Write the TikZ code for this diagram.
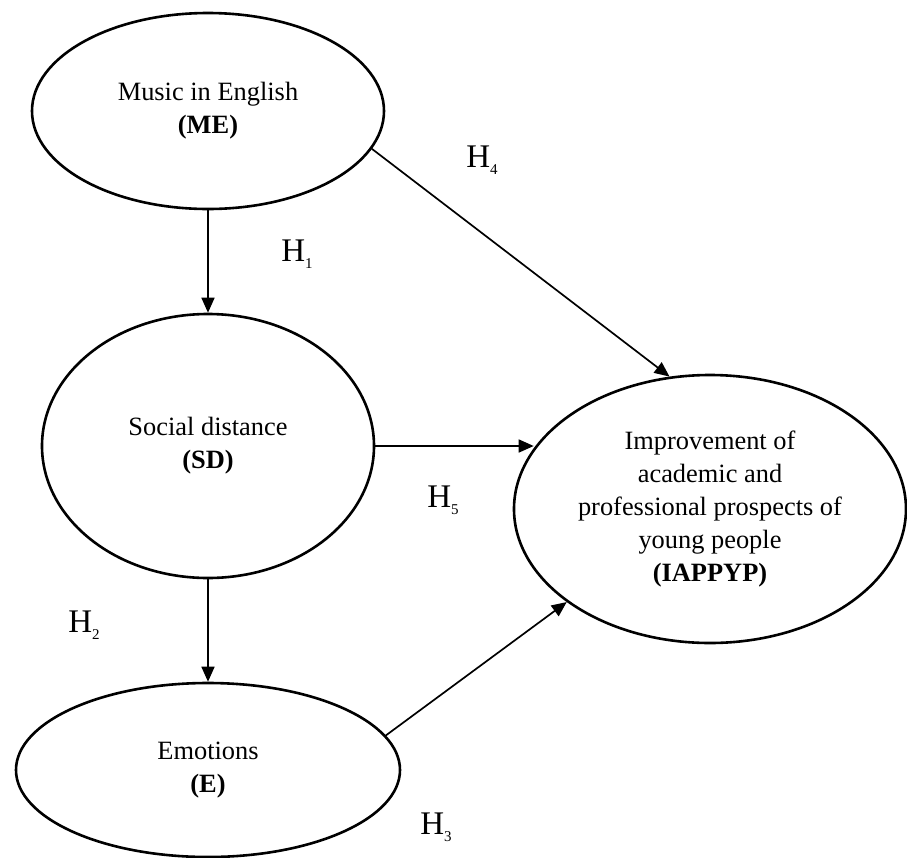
\documentclass[tikz,border=0pt]{standalone}
\usepackage{fontspec}
\setmainfont{Liberation Serif}
\usetikzlibrary{shapes.geometric,arrows.meta}
\newcommand{\hsub}[1]{H\raisebox{-0.45ex}{\fontsize{7.5}{8}\selectfont #1}}
\begin{document}
\begin{tikzpicture}[x=0.5pt,y=-0.5pt,
  latent/.style={draw, ellipse, line width=1.3pt, inner sep=0pt, align=center,
    font=\fontsize{13.2}{16.5}\selectfont},
  hpath/.style={line width=0.85pt, -{Triangle[length=7.5pt,width=6.5pt]}},
  hyp/.style={font=\fontsize{16.5}{18}\selectfont, inner sep=0pt}]
\useasboundingbox (0,0) rectangle (907,858);
\node[latent, minimum width=176pt, minimum height=98pt] (ME) at (208,111) {Music in English\\\textbf{(ME)}};
\node[latent, minimum width=166pt, minimum height=132pt] (SD) at (208,446) {Social distance\\\textbf{(SD)}};
\node[latent, minimum width=192pt, minimum height=87pt] (E) at (208,770) {Emotions\\\textbf{(E)}};
\node[latent, minimum width=196pt, minimum height=134pt] (IA) at (710,509) {Improvement of\\academic and\\professional prospects of\\young people\\\textbf{(IAPPYP)}};
\draw[hpath] (ME.south) -- (SD.north);
\draw[hpath] (SD.south) -- (E.north);
\draw[hpath] (ME.-13) -- (IA.107);
\draw[hpath] (SD.east) -- (SD.east -| IA.161);
\draw[hpath] (E.11) -- (IA.213);
\node[hyp] (h1) at (297,254) {\hsub{1}};
\node[hyp] (h2) at (84,625) {\hsub{2}};
\node[hyp] (h3) at (436,827) {\hsub{3}};
\node[hyp] (h4) at (482,160) {\hsub{4}};
\node[hyp] (h5) at (443,500) {\hsub{5}};
\end{tikzpicture}
\end{document}
